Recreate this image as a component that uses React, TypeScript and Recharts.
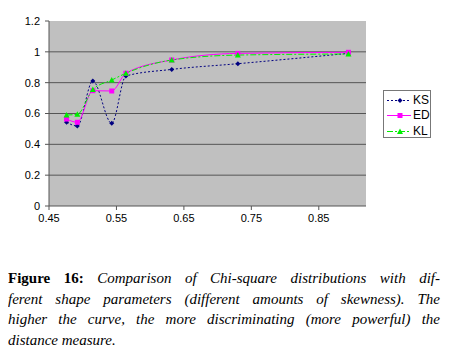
import React from 'react';
import { LineChart, Line, XAxis, YAxis, CartesianGrid } from 'recharts';

const xValues = [0.476, 0.492, 0.515, 0.543, 0.564, 0.632, 0.73, 0.894];
const ksValues = [0.543, 0.519, 0.811, 0.536, 0.843, 0.886, 0.923, 0.99];
const edValues = [0.564, 0.543, 0.748, 0.746, 0.861, 0.947, 0.99, 0.997];
const klValues = [0.59, 0.595, 0.755, 0.817, 0.861, 0.947, 0.979, 0.986];
const xTicks = [0.45, 0.55, 0.65, 0.75, 0.85];
const yTicks = [0, 0.2, 0.4, 0.6, 0.8, 1, 1.2];
const gridValues = [0.2, 0.4, 0.6, 0.8, 1];
const seriesNames = ['KS', 'ED', 'KL'];

const data = xValues.map((x, i) => ({ x, KS: ksValues[i], ED: edValues[i], KL: klValues[i] }));

const KS_COLOR = '#000080';
const ED_COLOR = '#ff00ff';
const KL_COLOR = '#00ee00';

const Diamond = (props: any) => {
  const { cx, cy } = props;
  if (cx == null || cy == null) return null;
  const r = 2.5;
  return <path d={`M${cx},${cy - r}L${cx + r},${cy}L${cx},${cy + r}L${cx - r},${cy}Z`} fill={KS_COLOR} stroke="none" />;
};
const Square = (props: any) => {
  const { cx, cy } = props;
  if (cx == null || cy == null) return null;
  const r = 2.5;
  return <rect x={cx - r} y={cy - r} width={2 * r} height={2 * r} fill={ED_COLOR} stroke="none" />;
};
const Triangle = (props: any) => {
  const { cx, cy } = props;
  if (cx == null || cy == null) return null;
  const r = 3;
  return <path d={`M${cx},${cy - r}L${cx + r},${cy + r * 0.8}L${cx - r},${cy + r * 0.8}Z`} fill={KL_COLOR} stroke="none" />;
};

const styles: Record<string, { color: string; dash?: string; Marker: any }> = {
  KS: { color: KS_COLOR, dash: '2 2', Marker: Diamond },
  ED: { color: ED_COLOR, Marker: Square },
  KL: { color: KL_COLOR, dash: '6 2 2 2', Marker: Triangle },
};

const LegendBox = () => (
  <div
    style={{
      position: 'absolute',
      left: 383,
      top: 90,
      width: 46,
      height: 46,
      border: '1px solid #777',
      background: '#fff',
      fontFamily: '"Liberation Sans", Arial, sans-serif',
      fontSize: 12,
    }}
  >
    {seriesNames.map((name, i) => {
      const s = styles[name];
      const M = s.Marker;
      return (
        <div key={name} style={{ position: 'absolute', left: 0, top: 1.5 + i * 15.6, height: 15, width: 46 }}>
          <svg width={27} height={15} style={{ position: 'absolute', left: 2, top: 0 }}>
            <line x1={1} y1={7.5} x2={25} y2={7.5} stroke={s.color} strokeWidth={1} strokeDasharray={s.dash} />
            <M cx={14} cy={7.5} />
          </svg>
          <span style={{ position: 'absolute', left: 29, top: 0, lineHeight: '15px', color: '#000' }}>{name}</span>
        </div>
      );
    })}
  </div>
);

export default function App() {
  return (
    <div style={{ position: 'relative', margin: -8, width: 453, height: 356, background: '#fff', overflow: 'hidden' }}>
      <LineChart
        width={453}
        height={235}
        data={data}
        margin={{ top: 21, right: 87, left: 0, bottom: 0 }}
      >
        <CartesianGrid
          vertical={false}
          horizontalValues={gridValues}
          stroke="#555"
          strokeWidth={1}
          fill="#c0c0c0"
          fillOpacity={1}
        />
        <XAxis
          type="number"
          dataKey="x"
          domain={[0.45, 0.92]}
          ticks={xTicks}
          allowDataOverflow
          tickFormatter={(v: number) => v.toFixed(2)}
          stroke="#555"
          tickSize={4}
          tickMargin={4}
          height={29}
          tick={{ fill: '#000', fontSize: 11, fontFamily: '"Liberation Sans", Arial, sans-serif' }}
        />
        <YAxis
          type="number"
          domain={[0, 1.2]}
          ticks={yTicks}
          width={49}
          stroke="#555"
          tickSize={4}
          tickMargin={5}
          tickFormatter={(v: number) => String(Number(v.toFixed(1)))}
          tick={{ fill: '#000', fontSize: 11, fontFamily: '"Liberation Sans", Arial, sans-serif' }}
        />
        {seriesNames.map((name) => {
          const s = styles[name];
          return (
            <Line
              key={name}
              type="monotone"
              dataKey={name}
              stroke={s.color}
              strokeWidth={1}
              strokeDasharray={s.dash}
              dot={<s.Marker />}
              activeDot={false}
              isAnimationActive={false}
            />
          );
        })}
      </LineChart>
      <LegendBox />
      <div
        style={{
          position: 'absolute',
          left: 8,
          top: 268,
          width: 432,
          fontFamily: '"Liberation Serif", "Times New Roman", serif',
          fontSize: 15,
          lineHeight: '20.5px',
          color: '#000',
        }}
      >
        <div style={{ textAlign: 'justify', textAlignLast: 'justify' }}>
          <b>Figure 16:</b> <i>Comparison of Chi-square distributions with dif-</i>
        </div>
        <div style={{ textAlign: 'justify', textAlignLast: 'justify' }}>
          <i>ferent shape parameters (different amounts of skewness). The</i>
        </div>
        <div style={{ textAlign: 'justify', textAlignLast: 'justify' }}>
          <i>higher the curve, the more discriminating (more powerful) the</i>
        </div>
        <div>
          <i>distance measure.</i>
        </div>
      </div>
    </div>
  );
}
